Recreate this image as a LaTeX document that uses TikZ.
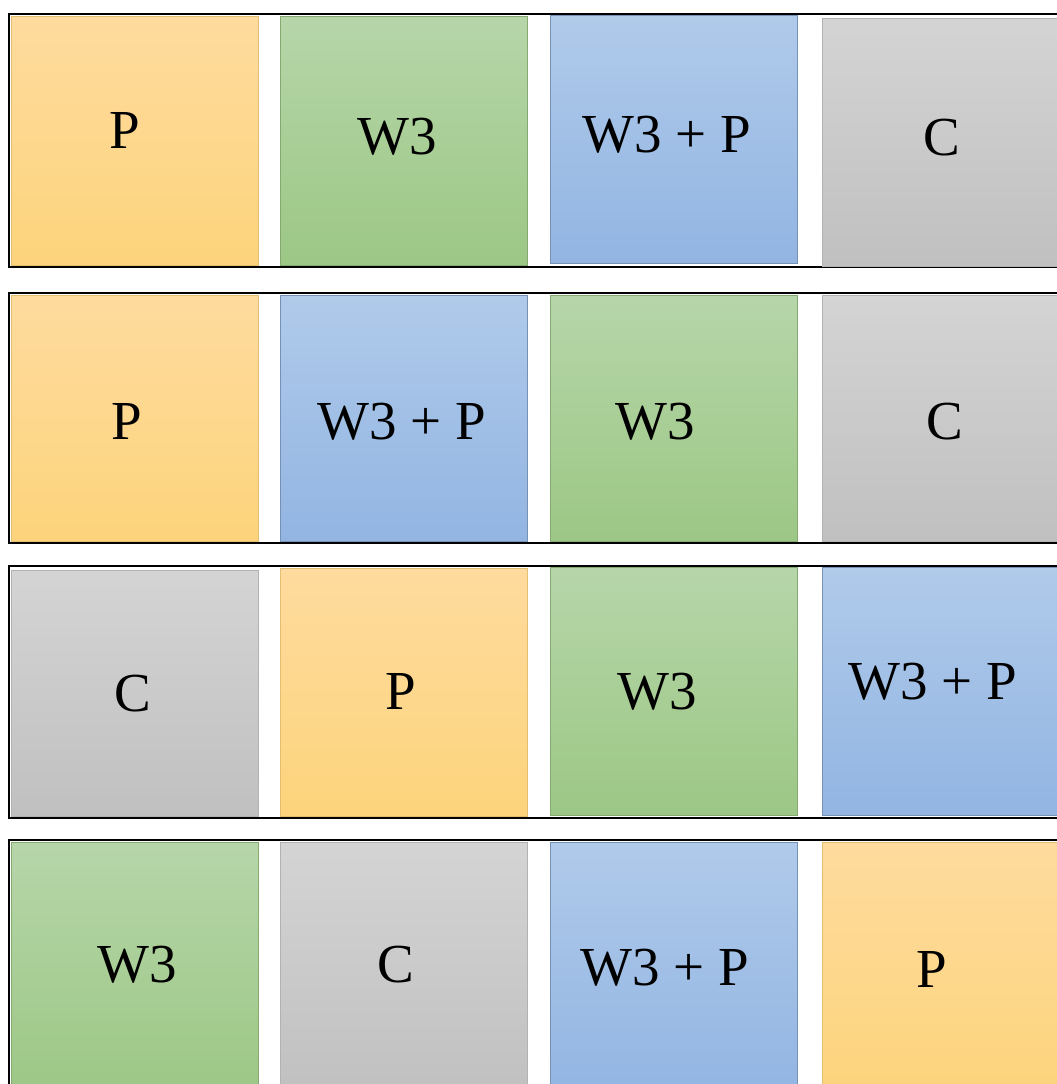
\documentclass[tikz,border=0pt]{standalone}
\usepackage{fontspec}
\setmainfont{Liberation Serif}
\begin{document}
\begin{tikzpicture}[x=1pt,y=-1pt,
  rowbox/.style={draw=black,line width=2.9pt},
  sqbox/.style={line width=0.6pt},
  orangesq/.style={sqbox,draw=ofBot!90!black,top color=ofTop,bottom color=ofBot},
  greensq/.style={sqbox,draw=gfBot!85!black,top color=gfTop,bottom color=gfBot},
  bluesq/.style={sqbox,draw=bfBot!80!black,top color=bfTop,bottom color=bfBot},
  graysq/.style={sqbox,draw=black!30,top color=cfTop,bottom color=cfBot},
  lbl/.style={anchor=base,inner sep=0pt,font=\fontsize{55}{60}\selectfont}
]
\definecolor{ofTop}{HTML}{FEDB9E}
\definecolor{ofBot}{HTML}{FDD47C}
\definecolor{gfTop}{HTML}{B6D6A9}
\definecolor{gfBot}{HTML}{9CC785}
\definecolor{bfTop}{HTML}{B0CAEA}
\definecolor{bfBot}{HTML}{92B5E2}
\definecolor{cfTop}{HTML}{D4D4D4}
\definecolor{cfBot}{HTML}{C0C0C0}
\useasboundingbox (0,0) rectangle (1057,1084);
\clip (0,0) rectangle (1057,1084);
% row outlines
\draw[rowbox] (9,14) rectangle (1075,267);
\draw[rowbox] (9,293) rectangle (1075,543);
\draw[rowbox] (9,566) rectangle (1075,818);
\draw[rowbox] (9,840) rectangle (1075,1100);
% row 1
\path[orangesq] (11,16) rectangle (258,265);
\path[greensq]  (280,16) rectangle (527,265);
\path[bluesq]   (550,15) rectangle (797,263);
\path[graysq]   (822,18) rectangle (1075,266);
\node[lbl] (r1a) at (125,148) {P};
\node[lbl] (r1b) at (397,154) {W3};
\node[lbl] (r1c) at (667,152) {W3 + P};
\node[lbl] (r1d) at (942,155) {C};
% row 2
\path[orangesq] (11,295) rectangle (258,541);
\path[bluesq]   (280,295) rectangle (527,541);
\path[greensq]  (550,295) rectangle (797,541);
\path[graysq]   (822,295) rectangle (1075,541);
\node[lbl] (r2a) at (127,439) {P};
\node[lbl] (r2b) at (402,439) {W3 + P};
\node[lbl] (r2c) at (655,439) {W3};
\node[lbl] (r2d) at (945,439) {C};
% row 3
\path[graysq]   (11,570) rectangle (258,816);
\path[orangesq] (280,568) rectangle (527,816);
\path[greensq]  (550,567) rectangle (797,815);
\path[bluesq]   (822,567) rectangle (1075,815);
\node[lbl] (r3a) at (133,711) {C};
\node[lbl] (r3b) at (401,709) {P};
\node[lbl] (r3c) at (657,709) {W3};
\node[lbl] (r3d) at (933,699) {W3 + P};
% row 4
\path[greensq]  (11,842) rectangle (258,1095);
\path[graysq]   (280,842) rectangle (527,1095);
\path[bluesq]   (550,842) rectangle (797,1095);
\path[orangesq] (822,842) rectangle (1075,1095);
\node[lbl] (r4a) at (137,982) {W3};
\node[lbl] (r4b) at (396,982) {C};
\node[lbl] (r4c) at (665,985) {W3 + P};
\node[lbl] (r4d) at (932,987) {P};
\end{tikzpicture}
\end{document}
